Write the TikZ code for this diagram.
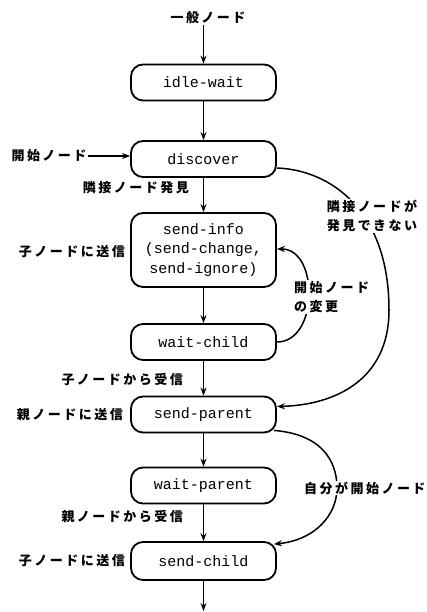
\documentclass[tikz,border=0pt]{standalone}
\usepackage{fontspec}
\setmonofont{Liberation Mono}
\newfontfamily\jp[LetterSpace=19]{Noto Sans CJK JP}
\usetikzlibrary{arrows.meta}
\begin{document}
\begin{tikzpicture}[x=1pt,y=-1pt,
  state/.style={draw, line width=1.8pt, rounded corners=12pt, minimum width=145pt,
    minimum height=36pt, inner sep=0pt, align=center,
    font=\ttfamily\fontsize{15}{19.5}\selectfont},
  lbl/.style={font=\jp\bfseries\fontsize{13}{19}\selectfont, inner sep=1pt, align=left},
  arr/.style={line width=1.5pt, -{Stealth[length=8pt,width=6pt]}},
]
\fill[white] (0,0) rectangle (427,612);
\useasboundingbox (0,0) rectangle (427,612);

\node[lbl] (general) at (208,18) {一般ノード};
\node[state] (idle) at (203.5,82.5) {idle-wait};
\node[state] (disc) at (203.5,159) {discover};
\node[state, minimum height=74pt] (info) at (203.5,250) {send-info\\(send-change,\\send-ignore)};
\node[state] (wchild) at (203.5,342) {wait-child};
\node[state] (spar) at (203.5,414.5) {send-parent};
\node[state] (wpar) at (203.5,485.5) {wait-parent};
\node[state, minimum height=38pt] (schild) at (203.5,561) {send-child};
\coordinate (bottom) at (203.5,611);

\node[lbl] (startn) at (49,156) {開始ノード};
\node[lbl, anchor=east] (found) at (190,188) {隣接ノード発見};
\node[lbl, anchor=east] (tochild1) at (126,252) {子ノードに送信};
\node[lbl, anchor=east] (fromchild) at (184,380) {子ノードから受信};
\node[lbl, anchor=east] (toparent) at (124,415) {親ノードに送信};
\node[lbl, anchor=east] (fromparent) at (184,517) {親ノードから受信};
\node[lbl, anchor=east] (tochild2) at (126,561) {子ノードに送信};

\draw[arr] (general.south -| idle.north) -- (idle.north);
\draw[arr] (idle) -- (disc);
\draw[arr] (disc) -- (info);
\draw[arr] (info) -- (wchild);
\draw[arr] (wchild) -- (spar);
\draw[arr] (spar) -- (wpar);
\draw[arr] (wpar) -- (schild);
\draw[arr] (schild) -- (bottom);
\draw[arr] (startn) -- (startn -| disc.west);

\draw[arr] (wchild.east) .. controls +(42,0) and +(42,0) .. ([yshift=1pt]info.east);
\draw[arr] ([yshift=-9pt]disc.east) .. controls (330,170) and (389,210) .. (389,310)
   .. controls (389,380) and (335,405) .. ([yshift=8pt]spar.east);
\draw[arr] ([xshift=-3pt,yshift=3pt]spar.south east) .. controls (330,435) and (337,470) .. (337,488)
   .. controls (337,515) and (315,540) .. ([xshift=-3pt,yshift=-3pt]schild.north east);

\node[lbl, fill=white, anchor=west] (change) at (293,297) {開始ノード\\の変更};
\node[lbl, fill=white, align=center] (notfound) at (372,216) {隣接ノードが\\発見できない};
\node[lbl, fill=white, anchor=west] (self) at (303,488) {自分が開始ノード};
\end{tikzpicture}
\end{document}
